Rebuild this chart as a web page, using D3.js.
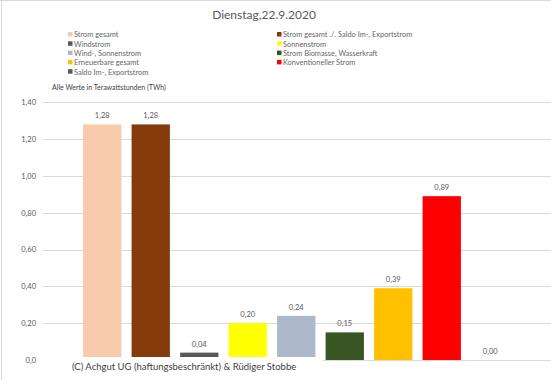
<!DOCTYPE html>
<html><head><meta charset="utf-8">
<script src="https://cdn.jsdelivr.net/npm/d3@7"></script>
<style>body{margin:0;background:#fff}svg{display:block}text{font-family:Lato,"Open Sans",sans-serif}</style>
</head><body>
<svg id="c" width="551" height="380"></svg>
<script>
const categories = ["Strom gesamt","Strom gesamt ./. Saldo Im-, Exportstrom","Windstrom","Sonnenstrom","Wind-, Sonnenstrom","Strom Biomasse, Wasserkraft","Erneuerbare gesamt","Konventioneller Strom","Saldo Im-, Exportstrom"];
const values = [1.28, 1.28, 0.04, 0.20, 0.24, 0.15, 0.39, 0.89, 0.00];
const colors = ["#F8CBAD","#843C0C","#595959","#FFFF00","#ADB9CA","#375623","#FFC000","#FF0000","#595959"];
const yTicks = [0, 0.2, 0.4, 0.6, 0.8, 1.0, 1.2, 1.4];
const yTickLabels = ["0,0","0,20","0,40","0,60","0,80","1,00","1,20","1,40"];
const legendOrder = [0,1,2,3,4,5,6,7,8];
const title = "Dienstag,22.9.2020";
const unitNote = "Alle Werte in Terawattstunden (TWh)";
const credit = "(C) Achgut UG (haftungsbeschränkt) & Rüdiger Stobbe";

const svg = d3.select("#c");
svg.append("line").attr("x1",0).attr("x2",551).attr("y1",0.5).attr("y2",0.5).attr("stroke","#d9d9d9");
svg.append("line").attr("x1",1.5).attr("x2",1.5).attr("y1",0).attr("y2",380).attr("stroke","#d9d9d9");

const y = d3.scaleLinear().domain([0,1.4]).range([360,102.3]);
const x = d3.scaleBand().domain(categories).range([78,514.5]).paddingInner(0.21).paddingOuter(0.105);

const yAxis = d3.axisLeft(y).tickValues(yTicks).tickFormat((d,i)=>yTickLabels[i]).tickSize(0).tickPadding(7);
const gy = svg.append("g").attr("transform","translate(43,0)").call(yAxis);
gy.select(".domain").remove();
gy.selectAll("text").attr("fill","#595959").attr("font-size","7.5px");
svg.append("g").selectAll("line").data(yTicks).join("line")
  .attr("x1",43).attr("x2",551).attr("y1",d=>Math.round(y(d))+0.5).attr("y2",d=>Math.round(y(d))+0.5)
  .attr("stroke","#d9d9d9").attr("stroke-width",1);

svg.append("g").selectAll("rect").data(values).join("rect")
  .attr("x",(d,i)=>x(categories[i])).attr("width",x.bandwidth())
  .attr("y",d=>y(d)).attr("height",d=>y(0)-y(d))
  .attr("fill",(d,i)=>colors[i]);

svg.append("g").selectAll("text").data(values).join("text")
  .attr("x",(d,i)=>x(categories[i])+x.bandwidth()/2).attr("y",d=>y(d)-6)
  .attr("text-anchor","middle").attr("font-size","7.5px").attr("fill","#595959")
  .text(d=>d.toFixed(2).replace(".",","));

svg.append("rect").attr("x",40).attr("y",357).attr("width",283).attr("height",22).attr("fill","#fff");
svg.append("text").attr("x",72).attr("y",370).attr("font-size","9.5px").attr("fill","#404040").text(credit);

svg.append("text").attr("x",264).attr("y",19).attr("text-anchor","middle").attr("font-size","12px").attr("fill","#595959").text(title);

const lg = svg.append("g");
legendOrder.forEach((ci,k)=>{
  const col = k%2, row = Math.floor(k/2);
  const lx = col===0 ? 68 : 277, ly = 35 + row*9.3;
  lg.append("rect").attr("x",lx).attr("y",ly-3).attr("width",4.5).attr("height",4.5).attr("fill",colors[ci]);
  lg.append("text").attr("x",lx+6).attr("y",ly+2.3).attr("font-size","7.4px").attr("fill","#666666").text(categories[ci]);
});

svg.append("text").attr("x",52).attr("y",90).attr("font-size","7px").attr("fill","#404040").text(unitNote);
</script>
</body></html>
